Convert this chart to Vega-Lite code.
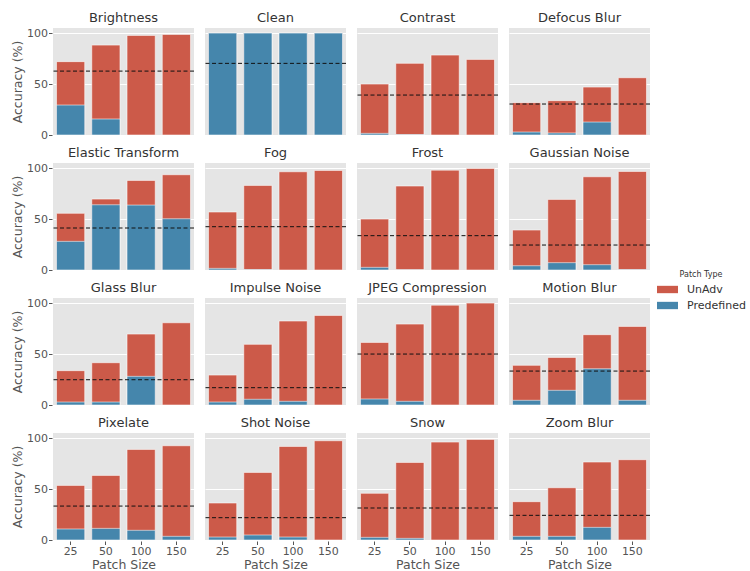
{
  "$schema": "https://vega.github.io/schema/vega-lite/v6.json",
  "padding": {"left": 11, "top": 12, "right": 0, "bottom": 0},
  "background": "white",
  "data": {"values": [
    {"c":"Brightness","s":25,"t":"UnAdv","v":72},{"c":"Brightness","s":50,"t":"UnAdv","v":88.2},{"c":"Brightness","s":100,"t":"UnAdv","v":97.7},{"c":"Brightness","s":150,"t":"UnAdv","v":98.7},
    {"c":"Brightness","s":25,"t":"Predefined","v":29.4},{"c":"Brightness","s":50,"t":"Predefined","v":15.7},
    {"c":"Brightness","t":"Baseline","v":62.7},
    {"c":"Clean","s":25,"t":"UnAdv","v":100},{"c":"Clean","s":50,"t":"UnAdv","v":100},{"c":"Clean","s":100,"t":"UnAdv","v":100},{"c":"Clean","s":150,"t":"UnAdv","v":100},
    {"c":"Clean","s":25,"t":"Predefined","v":100},{"c":"Clean","s":50,"t":"Predefined","v":100},{"c":"Clean","s":100,"t":"Predefined","v":100},{"c":"Clean","s":150,"t":"Predefined","v":100},
    {"c":"Clean","t":"Baseline","v":70.3},
    {"c":"Contrast","s":25,"t":"UnAdv","v":50},{"c":"Contrast","s":50,"t":"UnAdv","v":70.3},{"c":"Contrast","s":100,"t":"UnAdv","v":78.4},{"c":"Contrast","s":150,"t":"UnAdv","v":74.2},
    {"c":"Contrast","s":25,"t":"Predefined","v":1.6},{"c":"Contrast","s":50,"t":"Predefined","v":0.5},
    {"c":"Contrast","t":"Baseline","v":39.2},
    {"c":"Defocus Blur","s":25,"t":"UnAdv","v":31.7},{"c":"Defocus Blur","s":50,"t":"UnAdv","v":33.7},{"c":"Defocus Blur","s":100,"t":"UnAdv","v":47},{"c":"Defocus Blur","s":150,"t":"UnAdv","v":56.2},
    {"c":"Defocus Blur","s":25,"t":"Predefined","v":2.9},{"c":"Defocus Blur","s":50,"t":"Predefined","v":2},{"c":"Defocus Blur","s":100,"t":"Predefined","v":12.7},
    {"c":"Defocus Blur","t":"Baseline","v":30.4},
    {"c":"Elastic Transform","s":25,"t":"UnAdv","v":55.6},{"c":"Elastic Transform","s":50,"t":"UnAdv","v":69.6},{"c":"Elastic Transform","s":100,"t":"UnAdv","v":87.9},{"c":"Elastic Transform","s":150,"t":"UnAdv","v":93.5},
    {"c":"Elastic Transform","s":25,"t":"Predefined","v":28.1},{"c":"Elastic Transform","s":50,"t":"Predefined","v":64},{"c":"Elastic Transform","s":100,"t":"Predefined","v":63.7},{"c":"Elastic Transform","s":150,"t":"Predefined","v":50.3},
    {"c":"Elastic Transform","t":"Baseline","v":41.2},
    {"c":"Fog","s":25,"t":"UnAdv","v":56.9},{"c":"Fog","s":50,"t":"UnAdv","v":83},{"c":"Fog","s":100,"t":"UnAdv","v":96.4},{"c":"Fog","s":150,"t":"UnAdv","v":97.7},
    {"c":"Fog","s":25,"t":"Predefined","v":1.6},{"c":"Fog","s":50,"t":"Predefined","v":0.5},
    {"c":"Fog","t":"Baseline","v":42.5},
    {"c":"Frost","s":25,"t":"UnAdv","v":50},{"c":"Frost","s":50,"t":"UnAdv","v":82.4},{"c":"Frost","s":100,"t":"UnAdv","v":98},{"c":"Frost","s":150,"t":"UnAdv","v":99.7},
    {"c":"Frost","s":25,"t":"Predefined","v":2.6},{"c":"Frost","s":50,"t":"Predefined","v":0.3},
    {"c":"Frost","t":"Baseline","v":33.7},
    {"c":"Gaussian Noise","s":25,"t":"UnAdv","v":39.2},{"c":"Gaussian Noise","s":50,"t":"UnAdv","v":69.3},{"c":"Gaussian Noise","s":100,"t":"UnAdv","v":91.5},{"c":"Gaussian Noise","s":150,"t":"UnAdv","v":96.7},
    {"c":"Gaussian Noise","s":25,"t":"Predefined","v":4.2},{"c":"Gaussian Noise","s":50,"t":"Predefined","v":7.2},{"c":"Gaussian Noise","s":100,"t":"Predefined","v":5.2},{"c":"Gaussian Noise","s":150,"t":"Predefined","v":0.5},
    {"c":"Gaussian Noise","t":"Baseline","v":24.5},
    {"c":"Glass Blur","s":25,"t":"UnAdv","v":33.7},{"c":"Glass Blur","s":50,"t":"UnAdv","v":41.5},{"c":"Glass Blur","s":100,"t":"UnAdv","v":69.6},{"c":"Glass Blur","s":150,"t":"UnAdv","v":80.7},
    {"c":"Glass Blur","s":25,"t":"Predefined","v":2.9},{"c":"Glass Blur","s":50,"t":"Predefined","v":2.9},{"c":"Glass Blur","s":100,"t":"Predefined","v":28.1},
    {"c":"Glass Blur","t":"Baseline","v":24.8},
    {"c":"Impulse Noise","s":25,"t":"UnAdv","v":29.4},{"c":"Impulse Noise","s":50,"t":"UnAdv","v":59.5},{"c":"Impulse Noise","s":100,"t":"UnAdv","v":82.4},{"c":"Impulse Noise","s":150,"t":"UnAdv","v":87.9},
    {"c":"Impulse Noise","s":25,"t":"Predefined","v":2.9},{"c":"Impulse Noise","s":50,"t":"Predefined","v":5.6},{"c":"Impulse Noise","s":100,"t":"Predefined","v":3.6},
    {"c":"Impulse Noise","t":"Baseline","v":17},
    {"c":"JPEG Compression","s":25,"t":"UnAdv","v":61.4},{"c":"JPEG Compression","s":50,"t":"UnAdv","v":79.4},{"c":"JPEG Compression","s":100,"t":"UnAdv","v":98},{"c":"JPEG Compression","s":150,"t":"UnAdv","v":100},
    {"c":"JPEG Compression","s":25,"t":"Predefined","v":5.9},{"c":"JPEG Compression","s":50,"t":"Predefined","v":3.6},
    {"c":"JPEG Compression","t":"Baseline","v":50},
    {"c":"Motion Blur","s":25,"t":"UnAdv","v":38.9},{"c":"Motion Blur","s":50,"t":"UnAdv","v":46.7},{"c":"Motion Blur","s":100,"t":"UnAdv","v":69},{"c":"Motion Blur","s":150,"t":"UnAdv","v":77.1},
    {"c":"Motion Blur","s":25,"t":"Predefined","v":4.6},{"c":"Motion Blur","s":50,"t":"Predefined","v":14.4},{"c":"Motion Blur","s":100,"t":"Predefined","v":35.6},{"c":"Motion Blur","s":150,"t":"Predefined","v":4.6},
    {"c":"Motion Blur","t":"Baseline","v":33.3},
    {"c":"Pixelate","s":25,"t":"UnAdv","v":53.6},{"c":"Pixelate","s":50,"t":"UnAdv","v":63.4},{"c":"Pixelate","s":100,"t":"UnAdv","v":88.9},{"c":"Pixelate","s":150,"t":"UnAdv","v":92.5},
    {"c":"Pixelate","s":25,"t":"Predefined","v":10.8},{"c":"Pixelate","s":50,"t":"Predefined","v":11.4},{"c":"Pixelate","s":100,"t":"Predefined","v":9.5},{"c":"Pixelate","s":150,"t":"Predefined","v":3.6},
    {"c":"Pixelate","t":"Baseline","v":33.3},
    {"c":"Shot Noise","s":25,"t":"UnAdv","v":36.3},{"c":"Shot Noise","s":50,"t":"UnAdv","v":66.3},{"c":"Shot Noise","s":100,"t":"UnAdv","v":91.8},{"c":"Shot Noise","s":150,"t":"UnAdv","v":97.4},
    {"c":"Shot Noise","s":25,"t":"Predefined","v":2.9},{"c":"Shot Noise","s":50,"t":"Predefined","v":4.9},{"c":"Shot Noise","s":100,"t":"Predefined","v":2.9},
    {"c":"Shot Noise","t":"Baseline","v":21.9},
    {"c":"Snow","s":25,"t":"UnAdv","v":45.8},{"c":"Snow","s":50,"t":"UnAdv","v":76.1},{"c":"Snow","s":100,"t":"UnAdv","v":96.1},{"c":"Snow","s":150,"t":"UnAdv","v":98.7},
    {"c":"Snow","s":25,"t":"Predefined","v":2.6},{"c":"Snow","s":50,"t":"Predefined","v":1.6},
    {"c":"Snow","t":"Baseline","v":31.4},
    {"c":"Zoom Blur","s":25,"t":"UnAdv","v":37.6},{"c":"Zoom Blur","s":50,"t":"UnAdv","v":51.3},{"c":"Zoom Blur","s":100,"t":"UnAdv","v":76.5},{"c":"Zoom Blur","s":150,"t":"UnAdv","v":78.8},
    {"c":"Zoom Blur","s":25,"t":"Predefined","v":3.6},{"c":"Zoom Blur","s":50,"t":"Predefined","v":3.6},{"c":"Zoom Blur","s":100,"t":"Predefined","v":12.4},
    {"c":"Zoom Blur","t":"Baseline","v":24.2}
  ]},
  "facet": {"field": "c", "type": "nominal", "header": {"title": null}},
  "columns": 4,
  "spacing": {"column": 9, "row": 11},
  "resolve": {"scale": {"x": "shared", "y": "shared"}},
  "spec": {
    "width": 141,
    "height": 107,
    "layer": [
      {
        "transform": [{"filter": "datum.t === 'UnAdv'"}],
        "mark": {"type": "bar", "stroke": "#ffffff", "strokeOpacity": 0.55, "strokeWidth": 1},
        "encoding": {
          "x": {"field": "s", "type": "ordinal", "title": "Patch Size", "scale": {"domain": [25, 50, 100, 150], "paddingInner": 0.2, "paddingOuter": 0.1}, "axis": {"labelAngle": 0}},
          "y": {"field": "v", "type": "quantitative", "title": "Accuracy (%)", "scale": {"domain": [0, 105], "nice": false, "zero": true}, "axis": {"values": [0, 50, 100]}},
          "color": {"field": "t", "type": "nominal", "title": "Patch Type", "scale": {"domain": ["UnAdv", "Predefined"], "range": ["#CC5A49", "#4586AC"]}}
        }
      },
      {
        "transform": [{"filter": "datum.t === 'Predefined'"}],
        "mark": {"type": "bar", "stroke": "#ffffff", "strokeOpacity": 0.55, "strokeWidth": 1},
        "encoding": {
          "x": {"field": "s", "type": "ordinal"},
          "y": {"field": "v", "type": "quantitative"},
          "color": {"field": "t", "type": "nominal"}
        }
      },
      {
        "transform": [{"filter": "datum.t === 'Baseline'"}],
        "mark": {"type": "rule", "color": "#111111", "strokeDash": [4, 2.5], "strokeWidth": 1},
        "encoding": {
          "y": {"field": "v", "type": "quantitative"}
        }
      }
    ]
  },
  "config": {
    "font": "DejaVu Sans",
    "view": {"fill": "#E5E5E5", "stroke": null},
    "header": {"labelFontSize": 13, "labelFontWeight": 400, "labelColor": "#333333", "labelPadding": 3, "labelFont": "DejaVu Sans"},
    "axis": {
      "domain": false,
      "gridColor": "#ffffff",
      "gridWidth": 1,
      "tickColor": "#555555",
      "tickSize": 3.5,
      "labelColor": "#555555",
      "labelFontSize": 11,
      "labelFont": "DejaVu Sans",
      "titleColor": "#555555",
      "titleFontSize": 12.5,
      "titleFontWeight": "normal",
      "titleFont": "DejaVu Sans",
      "labelPadding": 1
    },
    "axisX": {"grid": false, "titlePadding": 2},
    "axisY": {"titlePadding": 2.5},
    "legend": {
      "orient": "none",
      "legendX": 604,
      "legendY": 243,
      "titleFontSize": 8,
      "titleFontWeight": "normal",
      "titleColor": "#333333",
      "titleAnchor": "middle",
      "labelFontSize": 11,
      "labelColor": "#333333",
      "symbolType": "M-1,-0.35H1V0.35H-1Z",
      "symbolSize": 441,
      "symbolStrokeWidth": 0,
      "symbolOpacity": 1,
      "labelOffset": 9,
      "rowPadding": 0,
      "titlePadding": 0
    }
  }
}
